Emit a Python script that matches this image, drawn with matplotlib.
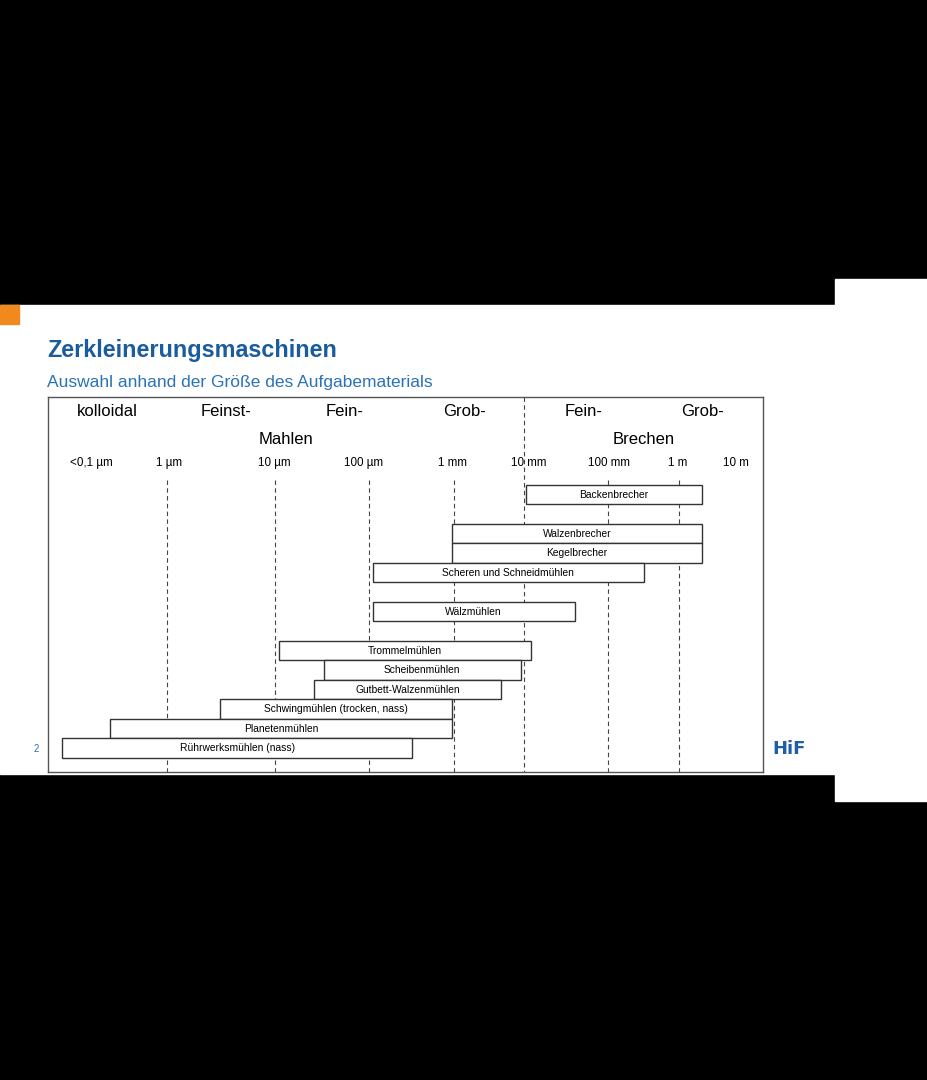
import numpy as np
import matplotlib.pyplot as plt
from matplotlib.patches import Rectangle

plt.rcParams['font.family'] = ['Liberation Sans', 'DejaVu Sans']

# data: particle feed size ranges in micrometres
machines = ["Backenbrecher", "Walzenbrecher", "Kegelbrecher",
            "Scheren und Schneidmühlen", "Wälzmühlen", "Trommelmühlen",
            "Scheibenmühlen", "Gutbett-Walzenmühlen",
            "Schwingmühlen (trocken, nass)", "Planetenmühlen",
            "Rührwerksmühlen (nass)"]
rows = [0, 2, 3, 4, 6, 8, 9, 10, 11, 12, 13]
size_min_um = [1.05e4, 950, 950, 110, 110, 11, 33, 26, 3.1, 0.18, 0.042]
size_max_um = [2.5e6, 2.5e6, 2.5e6, 3.2e5, 4e4, 1.2e4, 9e3, 4.7e3, 950, 950, 320]

tick_um = [0.1, 1, 10, 100, 1e3, 1e4, 1e5, 1e6, 1e7]
tick_labels = ["<0,1 µm", "1 µm", "10 µm", "100 µm", "1 mm", "10 mm",
               "100 mm", "1 m", "10 m"]
grid_um = [1, 10, 100, 1e3, 1e4, 1e5, 1e6]

classes = ["kolloidal", "Feinst-", "Fein-", "Grob-", "Fein-", "Grob-"]
groups = ["Mahlen", "Brechen"]

# the slide's size axis is drawn unevenly, so map decades piecewise
dec_lg = [-2, -1, 0, 1, 2, 3, 4, 5, 6, 7, 8]
dec_px = [15, 91, 167, 275, 369, 454, 524, 608, 679, 736, 793]
# small nudges of the size labels as placed on the slide (pixels)
label_nudge = [0, 2, -1, -5, -1, 5, 1, -1, 0]


def fwd(x):
    x = np.clip(np.asarray(x, dtype=float), 1e-12, None)
    return np.interp(np.log10(x), dec_lg, dec_px)


def inv(p):
    return 10 ** np.interp(np.asarray(p, dtype=float), dec_px, dec_lg)


W, H = 928, 1080
fig = plt.figure(figsize=(W / 100, H / 100), dpi=100, facecolor='black')


def fx(x):
    return x / W


def fy(y):
    return 1 - y / H


# slide background
fig.patches.append(Rectangle((0, fy(774)), fx(835), (774 - 305) / H,
                             transform=fig.transFigure, color='white', zorder=-2))
fig.patches.append(Rectangle((fx(835), fy(801)), (W - 835) / W, (801 - 279) / H,
                             transform=fig.transFigure, color='white', zorder=-2))
fig.patches.append(Rectangle((0, fy(324)), fx(19), 19 / H,
                             transform=fig.transFigure, color='#f08a1c', zorder=-1))

fig.text(fx(47), fy(351), "Zerkleinerungsmaschinen", fontsize=16.8,
         fontweight='bold', color='#1a5c9e', va='center', ha='left')
fig.text(fx(47), fy(383), "Auswahl anhand der Größe des Aufgabematerials",
         fontsize=12.5, color='#2b72b6', va='center', ha='left')
fig.text(fx(36), fy(749), "2", fontsize=7, color='#2b72b6', ha='center', va='center')
fig.text(fx(789), fy(749), "HiF", fontsize=13, fontweight='bold',
         family='DejaVu Sans', color='#1f5fa8', ha='center', va='center')

ax = fig.add_axes([fx(48), fy(772), (763 - 48) / W, (772 - 397) / H])
ax.set_zorder(3)
ax.set_xscale('function', functions=(fwd, inv))
ax.set_xlim(inv(48), inv(763))
ax.set_ylim(14.23, -5.0)
ax.set_xticks([])
ax.set_yticks([])
for s in ax.spines.values():
    s.set_color('#555555')
    s.set_linewidth(1.0)

# dashed size grid
for g in grid_um:
    top = -5.0 if g == 1e4 else -0.74
    ax.vlines(g, top, 14.23, colors='#444444', linestyles=(0, (4, 3)),
              linewidth=0.8, zorder=1)

# bars
for name, r, lo, hi in zip(machines, rows, size_min_um, size_max_um):
    ax.barh(r, hi - lo, left=lo, height=1.0, facecolor='white',
            edgecolor='#333333', linewidth=1.0, zorder=2)
    mid = inv((fwd(lo) + fwd(hi)) / 2)
    ax.text(mid, r, name, fontsize=7.4, ha='center', va='center', zorder=3)

# size labels
for t, lab, dx in zip(tick_um, tick_labels, label_nudge):
    ax.annotate(lab, (t, -1.62), xytext=(dx, 0), textcoords='offset pixels',
                fontsize=8.4, ha='center', va='center')

# class headings
class_px = [107, 226, 345, 465, 584, 703]
for p, lab in zip(class_px, classes):
    ax.text((p - 48) / 715, (772 - 411) / 375, lab, transform=ax.transAxes,
            fontsize=12, ha='center', va='center')
for p, lab in zip([286, 644], groups):
    ax.text((p - 48) / 715, (772 - 439) / 375, lab, transform=ax.transAxes,
            fontsize=12, ha='center', va='center')

fig.savefig('out.png', dpi=100, facecolor='black')
